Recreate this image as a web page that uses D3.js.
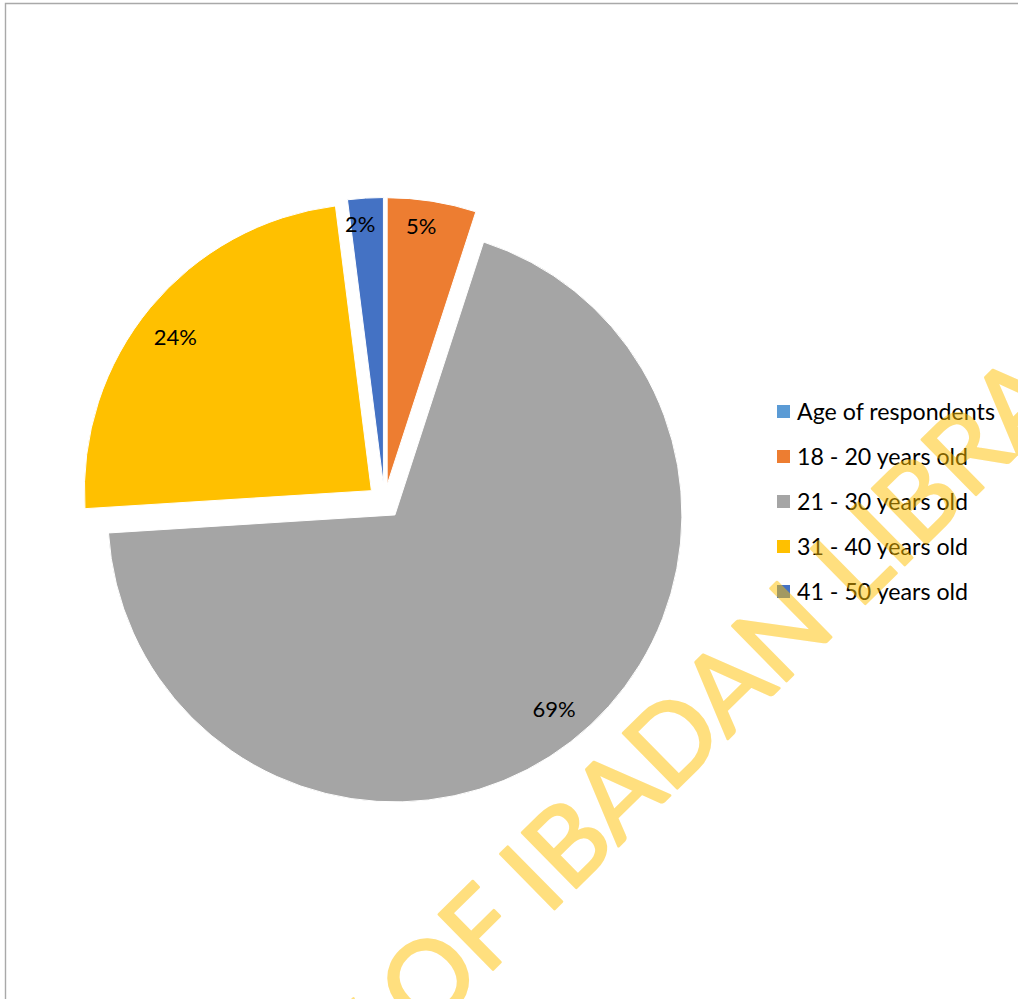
<!DOCTYPE html>
<html>
<head>
<meta charset="utf-8">
<script src="https://cdn.jsdelivr.net/npm/d3@7"></script>
<style>
  body { margin: 0; background: #fff; }
  svg { display: block; }
</style>
</head>
<body>
<svg id="chart" width="1018" height="999"></svg>
<script>
// Age distribution of respondents (percent of sample)
const categories = ["Age of respondents", "18 - 20 years old", "21 - 30 years old", "31 - 40 years old", "41 - 50 years old"];
const shares = [0, 5, 69, 24, 2];
const colors = ["#5B9BD5", "#ED7D31", "#A5A5A5", "#FFC000", "#4472C4"];
const watermarkText = "UNIVERSITY OF IBADAN LIBRARY";

const W = 1018, H = 999;
const svg = d3.select("#chart");
const font = "Lato, Carlito, Calibri, 'Noto Sans', sans-serif";

// chart area frame (only top and left edges fall inside the view)
svg.append("path")
  .attr("d", "M5.5," + H + " V3.5 H" + W)
  .attr("fill", "none")
  .attr("stroke", "#A9A9A9")
  .attr("stroke-width", 1.4);

const data = categories.map((c, i) => ({ name: c, value: shares[i], color: colors[i] }));

// pie geometry
const cx = 384.5, cy = 501.5;
const radius = 287;
const explode = 17;

const pie = d3.pie().value(d => d.value).sort(null).startAngle(0).endAngle(2 * Math.PI);
const arc = d3.arc().innerRadius(0).outerRadius(radius);
const arcs = pie(data);

const pieG = svg.append("g").attr("transform", `translate(${cx},${cy})`);

const slice = pieG.selectAll("g.slice")
  .data(arcs.filter(a => a.data.value > 0))
  .join("g")
  .attr("class", "slice")
  .attr("transform", a => {
    const mid = (a.startAngle + a.endAngle) / 2;
    return `translate(${explode * Math.sin(mid)},${-explode * Math.cos(mid)})`;
  });

slice.append("path")
  .attr("d", arc)
  .attr("fill", a => a.data.color)
  .attr("stroke", "#fff")
  .attr("stroke-width", 1);

// percentage labels placed just inside the outer edge of each slice
const labelSize = 22;
const labelTurn = -1.5 * Math.PI / 180;
slice.append("text")
  .text(a => a.data.value + "%")
  .attr("font-family", font)
  .attr("font-size", labelSize)
  .attr("fill", "#000")
  .attr("text-anchor", "middle")
  .each(function (a) {
    const t = d3.select(this);
    const bb = this.getBBox();
    const mid = (a.startAngle + a.endAngle) / 2 + labelTurn;
    const s = Math.sin(mid), c = -Math.cos(mid);
    const hw = bb.width / 2, hh = labelSize * 0.36;
    const dist = radius - 16 - (Math.abs(hw * s) + Math.abs(hh * c));
    t.attr("x", dist * s).attr("y", dist * c + labelSize * 0.36);
  });

// legend
const legendSize = 23.2;
const ly = d3.scalePoint().domain(categories).range([411.5, 591.5]);
const legend = svg.append("g");
const item = legend.selectAll("g").data(data).join("g")
  .attr("transform", d => `translate(777,${ly(d.name)})`);
item.append("rect")
  .attr("x", 0).attr("y", -6.5)
  .attr("width", 13).attr("height", 13)
  .attr("fill", d => d.color);
item.append("text")
  .attr("x", 20)
  .attr("y", legendSize * 0.35)
  .attr("font-family", font)
  .attr("font-size", legendSize)
  .attr("fill", "#000")
  .text(d => d.name);

// translucent diagonal library watermark across the page
const wmG = svg.append("g").attr("opacity", 0.5);
const wm = wmG.append("text")
  .attr("x", 0).attr("y", 0)
  .attr("font-family", font)
  .attr("font-size", 108)
  .attr("fill", "#FFC000")
  .attr("stroke", "#FFC000")
  .attr("stroke-width", 2.5)
  .attr("stroke-linejoin", "round")
  .text(watermarkText);
const iIndex = watermarkText.indexOf("IBADAN");
const ext = wm.node().getExtentOfChar(iIndex);
const iCenter = ext.x + ext.width / 2;
wmG.attr("transform", `translate(558.4,905.4) rotate(-44.5) translate(${-iCenter},0)`);
</script>
</body>
</html>
